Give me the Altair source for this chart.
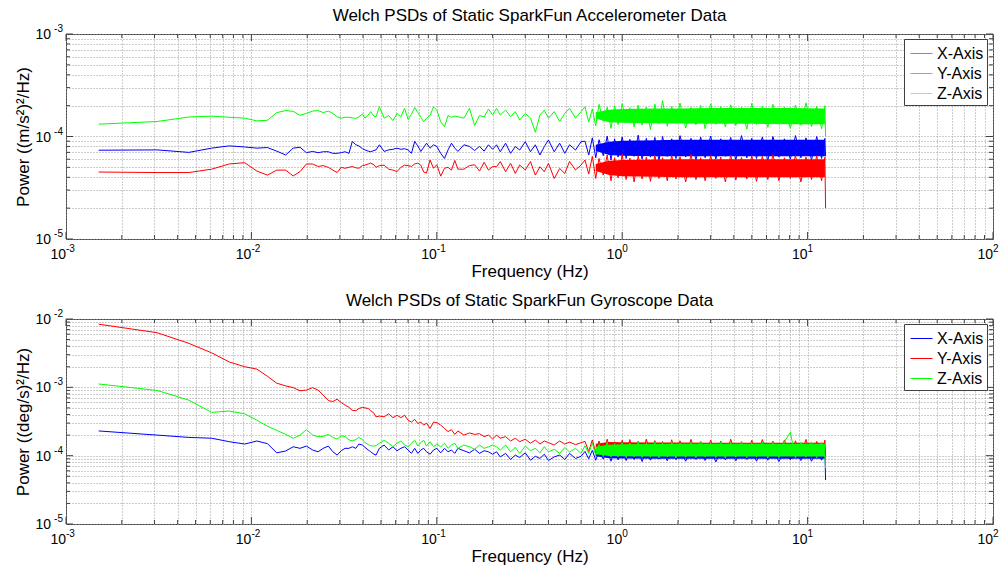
import altair as alt
import pandas as pd

FONT = "Liberation Sans"
BOX = "#404040"
GRID = "#9a9a9a"

SERIES = ["X-Axis", "Y-Axis", "Z-Axis"]
COLORS = ["#0000ff", "#ff0000", "#00ff00"]

# ---- frequency grids (Hz) ----
F_LOW = [0.0015, 0.0031, 0.0046, 0.0061, 0.0076, 0.0092, 0.0107, 0.0122, 0.0137, 0.0153,
         0.0168, 0.0183, 0.0198, 0.0214, 0.0229, 0.0244, 0.026, 0.0275, 0.029, 0.0305,
         0.032, 0.0336, 0.035, 0.0366, 0.038, 0.0397, 0.041, 0.0427, 0.044, 0.0458,
         0.047, 0.049, 0.052, 0.055, 0.058, 0.061, 0.064, 0.067, 0.070, 0.073,
         0.076, 0.079, 0.082, 0.085, 0.088, 0.092, 0.096, 0.10, 0.105, 0.11,
         0.115, 0.12, 0.125, 0.13, 0.14, 0.15, 0.16, 0.17, 0.18, 0.19, 0.20]
F_MID = [0.21, 0.22, 0.235, 0.25, 0.265, 0.28, 0.30, 0.32, 0.34, 0.36, 0.38, 0.40,
         0.43, 0.46, 0.49, 0.52, 0.56, 0.60]
F_HIGH = [0.63, 0.66, 0.69, 0.72, 0.75, 0.79, 0.83, 0.87, 0.91, 0.95,
          1.0, 1.05, 1.1, 1.16, 1.22, 1.28, 1.35, 1.42, 1.5, 1.58,
          1.65, 1.75, 1.85, 1.95, 2.05, 2.2, 2.35, 2.5, 2.65, 2.8,
          3.0, 3.2, 3.4, 3.6, 3.85, 4.1, 4.4, 4.7, 5.0, 5.3,
          5.7, 6.1, 6.5, 7.0, 7.5, 8.07, 8.6, 9.2, 9.8, 10.5,
          11.2, 11.9, 12.4, 12.5]
F_LINE = F_LOW + F_MID + F_HIGH
# dense (solid-looking) core of the high-frequency noise
BAND_F = [0.72, 0.85, 1.0, 1.5, 2.0, 3.0, 5.0, 8.0, 12.4]

# ---- accelerometer PSD, (m/s^2)^2/Hz ----
ACC_X = [7.35e-5, 7.4e-5, 7.0e-5, 7.7e-5, 8.1e-5, 7.9e-5, 7.7e-5, 7.8e-5, 7.2e-5, 6.6e-5,
         7.7e-5, 7.85e-5, 6.95e-5, 7.15e-5, 6.95e-5, 7.1e-5, 7.1e-5, 6.85e-5, 6.85e-5, 6.95e-5,
         7.1e-5, 6.85e-5, 8.95e-5, 8.3e-5, 8.1e-5, 7.6e-5, 7.4e-5, 7.2e-5, 7.1e-5, 7.3e-5,
         7.4e-5, 8.3e-5, 7.15e-5, 7.4e-5, 7.5e-5, 7.7e-5, 7.5e-5, 7.6e-5, 7.4e-5, 6.85e-5,
         8.95e-5, 8.1e-5, 7.15e-5, 7.85e-5, 8.6e-5, 7.7e-5, 8.3e-5, 8.0e-5, 6.85e-5, 6.1e-5,
         7.4e-5, 8.6e-5, 7.7e-5, 7.15e-5, 8.3e-5, 8.0e-5, 7.3e-5, 8.0e-5, 7.2e-5, 8.3e-5, 7.5e-5,
         8.3e-5, 7.1e-5, 8.6e-5, 6.85e-5, 7.97e-5, 7.38e-5, 8.9e-5, 7.1e-5, 8.3e-5,
         6.6e-5, 7.97e-5, 9.25e-5, 7.1e-5, 8.6e-5, 6.85e-5, 8.3e-5, 7.38e-5, 8.9e-5,
         9.0e-5, 6.6e-5, 9.7e-5, 6.2e-5, 9.3e-5, 6.5e-5, 10.1e-5, 5.9e-5, 9.5e-5, 6.3e-5,
         9.9e-5, 6.1e-5, 9.4e-5, 6.4e-5, 10.3e-5, 6.0e-5, 9.6e-5, 6.3e-5, 9.8e-5, 5.8e-5,
         10.0e-5, 6.4e-5, 9.5e-5, 6.1e-5, 10.2e-5, 6.3e-5, 9.6e-5, 5.9e-5, 9.9e-5, 6.2e-5,
         10.1e-5, 6.0e-5, 9.5e-5, 6.4e-5, 9.8e-5, 5.9e-5, 10.2e-5, 6.2e-5, 9.6e-5, 6.1e-5,
         9.9e-5, 5.8e-5, 10.0e-5, 6.3e-5, 9.5e-5, 6.0e-5, 10.2e-5, 6.2e-5, 9.7e-5, 5.9e-5,
         10.0e-5, 6.1e-5, 9.6e-5, 6.4e-5]
ACC_Y = [4.5e-5, 4.45e-5, 4.45e-5, 4.8e-5, 5.4e-5, 5.55e-5, 4.6e-5, 4.2e-5, 4.7e-5, 4.7e-5,
         4.12e-5, 4.55e-5, 5.39e-5, 5.39e-5, 5.1e-5, 5.2e-5, 5.0e-5, 4.7e-5, 4.45e-5, 5.0e-5,
         4.9e-5, 5.0e-5, 5.1e-5, 4.95e-5, 4.9e-5, 5.2e-5, 5.25e-5, 5.39e-5, 5.5e-5, 5.3e-5,
         5.0e-5, 5.2e-5, 5.25e-5, 4.8e-5, 4.7e-5, 4.55e-5, 5.0e-5, 5.25e-5, 5.2e-5, 5.1e-5,
         5.4e-5, 5.5e-5, 5.25e-5, 4.5e-5, 4.4e-5, 5.9e-5, 4.9e-5, 5.3e-5, 4.1e-5, 4.9e-5,
         5.0e-5, 4.7e-5, 5.85e-5, 4.8e-5, 4.8e-5, 5.2e-5, 5.3e-5, 4.6e-5, 5.6e-5, 4.7e-5, 5.1e-5,
         5.07e-5, 5.7e-5, 4.53e-5, 5.48e-5, 4.36e-5, 5.27e-5, 4.71e-5, 5.7e-5, 4.2e-5,
         5.07e-5, 4.53e-5, 5.48e-5, 3.89e-5, 4.88e-5, 4.36e-5, 5.7e-5, 4.71e-5, 5.27e-5,
         5.9e-5, 4.3e-5, 6.4e-5, 3.9e-5, 6.1e-5, 4.2e-5, 6.6e-5, 3.7e-5, 6.2e-5, 3.95e-5,
         6.7e-5, 3.8e-5, 6.15e-5, 3.6e-5, 6.5e-5, 3.85e-5, 6.3e-5, 3.65e-5, 6.6e-5, 3.9e-5,
         6.2e-5, 3.7e-5, 6.55e-5, 3.85e-5, 6.35e-5, 3.6e-5, 6.7e-5, 3.8e-5, 6.2e-5, 3.7e-5,
         6.5e-5, 3.9e-5, 6.3e-5, 3.6e-5, 6.6e-5, 3.75e-5, 6.25e-5, 3.85e-5, 6.5e-5, 3.65e-5,
         6.4e-5, 3.8e-5, 6.65e-5, 3.7e-5, 6.2e-5, 3.9e-5, 6.55e-5, 3.6e-5, 6.3e-5, 3.8e-5,
         6.5e-5, 3.7e-5, 6.3e-5, 2.0e-5]
ACC_Z = [1.32e-4, 1.40e-4, 1.55e-4, 1.58e-4, 1.54e-4, 1.51e-4, 1.42e-4, 1.44e-4, 1.71e-4, 1.79e-4,
         1.76e-4, 1.61e-4, 1.68e-4, 1.77e-4, 1.79e-4, 1.71e-4, 1.77e-4, 1.68e-4, 1.56e-4, 1.51e-4,
         1.54e-4, 1.54e-4, 1.52e-4, 1.50e-4, 1.56e-4, 1.65e-4, 1.51e-4, 1.62e-4, 1.75e-4, 1.58e-4,
         1.56e-4, 1.95e-4, 1.51e-4, 1.60e-4, 1.43e-4, 1.68e-4, 1.56e-4, 1.88e-4, 1.47e-4, 1.65e-4,
         1.92e-4, 1.71e-4, 1.54e-4, 1.39e-4, 1.51e-4, 1.60e-4, 1.95e-4, 1.81e-4, 1.39e-4, 1.25e-4,
         1.60e-4, 1.54e-4, 1.58e-4, 1.56e-4, 1.51e-4, 1.88e-4, 1.28e-4, 1.60e-4, 1.55e-4, 1.85e-4, 1.62e-4,
         1.88e-4, 1.62e-4, 1.81e-4, 1.56e-4, 1.75e-4, 1.45e-4, 1.68e-4, 1.51e-4, 1.10e-4,
         1.62e-4, 1.81e-4, 1.51e-4, 1.75e-4, 1.40e-4, 1.68e-4, 1.88e-4, 1.51e-4, 1.75e-4,
         1.95e-4, 1.38e-4, 1.86e-4, 1.27e-4, 2.06e-4, 1.41e-4, 1.93e-4, 1.20e-4, 1.99e-4, 1.31e-4,
         2.10e-4, 1.36e-4, 1.91e-4, 1.24e-4, 2.02e-4, 1.29e-4, 1.94e-4, 1.17e-4, 2.07e-4, 1.33e-4,
         2.24e-4, 1.26e-4, 1.96e-4, 1.35e-4, 2.12e-4, 1.21e-4, 1.92e-4, 1.30e-4, 2.01e-4, 1.19e-4,
         2.09e-4, 1.32e-4, 1.95e-4, 1.24e-4, 2.04e-4, 1.28e-4, 1.93e-4, 1.18e-4, 2.11e-4, 1.31e-4,
         1.97e-4, 1.23e-4, 2.06e-4, 1.34e-4, 1.94e-4, 1.20e-4, 2.03e-4, 1.29e-4, 2.13e-4, 1.25e-4,
         1.96e-4, 1.19e-4, 2.00e-4, 1.00e-4]
ACC_X_HI = [8.3e-5, 8.9e-5, 9.1e-5, 9.2e-5, 9.3e-5, 9.3e-5, 9.3e-5, 9.3e-5, 9.3e-5]
ACC_X_LO = [7.2e-5, 6.6e-5, 6.5e-5, 6.4e-5, 6.4e-5, 6.4e-5, 6.4e-5, 6.4e-5, 6.4e-5]
ACC_Y_HI = [5.4e-5, 5.8e-5, 5.9e-5, 5.95e-5, 6.0e-5, 6.0e-5, 6.0e-5, 6.0e-5, 6.0e-5]
ACC_Y_LO = [4.6e-5, 4.2e-5, 4.1e-5, 4.05e-5, 4.0e-5, 4.0e-5, 4.0e-5, 4.0e-5, 4.0e-5]
ACC_Z_HI = [1.72e-4, 1.82e-4, 1.86e-4, 1.88e-4, 1.88e-4, 1.90e-4, 1.90e-4, 1.90e-4, 1.88e-4]
ACC_Z_LO = [1.50e-4, 1.38e-4, 1.36e-4, 1.35e-4, 1.34e-4, 1.33e-4, 1.33e-4, 1.32e-4, 1.32e-4]

# ---- gyroscope PSD, (deg/s)^2/Hz ----
GYR_X = [2.3e-4, 2.0e-4, 1.85e-4, 1.8e-4, 1.6e-4, 1.48e-4, 1.64e-4, 1.5e-4, 1.1e-4, 1.17e-4,
         1.35e-4, 1.28e-4, 1.38e-4, 1.21e-4, 1.14e-4, 1.28e-4, 1.38e-4, 1.14e-4, 1.02e-4, 1.18e-4,
         1.28e-4, 1.28e-4, 1.35e-4, 1.28e-4, 1.48e-4, 1.43e-4, 1.32e-4, 1.21e-4, 1.14e-4, 1.05e-4,
         1.02e-4, 1.28e-4, 1.43e-4, 1.21e-4, 1.35e-4, 1.18e-4, 1.28e-4, 1.35e-4, 1.21e-4, 1.08e-4,
         1.28e-4, 1.08e-4, 1.21e-4, 1.28e-4, 1.14e-4, 1.05e-4, 1.21e-4, 1.28e-4, 1.10e-4, 1.28e-4,
         1.14e-4, 1.21e-4, 1.08e-4, 1.28e-4, 1.18e-4, 1.10e-4, 1.24e-4, 1.08e-4, 1.18e-4, 1.14e-4, 1.05e-4,
         1.14e-4, 9.6e-5, 1.08e-4, 8.8e-5, 1.02e-4, 9.4e-5, 1.10e-4, 8.6e-5, 9.8e-5,
         9.1e-5, 1.05e-4, 8.5e-5, 9.6e-5, 1.02e-4, 8.8e-5, 1.08e-4, 9.1e-5, 9.8e-5,
         11.5e-5, 9.0e-5, 12.0e-5, 8.6e-5, 11.8e-5, 8.9e-5, 12.2e-5, 8.3e-5, 12.0e-5, 8.7e-5,
         12.1e-5, 8.5e-5, 11.9e-5, 8.8e-5, 12.2e-5, 8.2e-5, 12.0e-5, 8.6e-5, 12.1e-5, 8.9e-5,
         11.9e-5, 8.4e-5, 12.2e-5, 8.7e-5, 12.0e-5, 8.3e-5, 12.1e-5, 8.8e-5, 11.9e-5, 8.5e-5,
         12.2e-5, 8.1e-5, 12.0e-5, 8.7e-5, 12.1e-5, 8.4e-5, 11.9e-5, 8.8e-5, 12.2e-5, 8.3e-5,
         12.0e-5, 8.6e-5, 12.1e-5, 8.2e-5, 11.9e-5, 8.7e-5, 12.2e-5, 8.5e-5, 12.0e-5, 8.3e-5,
         12.1e-5, 8.6e-5, 11.8e-5, 4.4e-5]
GYR_Y = [8.4e-3, 6.3e-3, 4.4e-3, 3.2e-3, 2.35e-3, 2.0e-3, 1.85e-3, 1.45e-3, 1.15e-3, 1.05e-3,
         9.9e-4, 8.9e-4, 9.1e-4, 9.9e-4, 9.1e-4, 7.7e-4, 6.4e-4, 6.2e-4, 6.7e-4, 6.0e-4,
         5.5e-4, 5.1e-4, 4.6e-4, 4.55e-4, 4.9e-4, 5.1e-4, 5.0e-4, 4.9e-4, 4.55e-4, 4.2e-4,
         3.7e-4, 3.8e-4, 3.7e-4, 4.1e-4, 3.6e-4, 3.9e-4, 3.6e-4, 3.9e-4, 3.3e-4, 3.1e-4,
         3.4e-4, 2.95e-4, 3.1e-4, 2.8e-4, 3.0e-4, 2.5e-4, 3.1e-4, 3.05e-4, 2.8e-4, 2.5e-4,
         2.25e-4, 2.4e-4, 2.05e-4, 2.3e-4, 2.0e-4, 2.15e-4, 2.05e-4, 2.1e-4, 1.9e-4, 2.0e-4, 1.75e-4,
         2.0e-4, 1.8e-4, 1.9e-4, 1.64e-4, 1.8e-4, 1.6e-4, 1.74e-4, 1.52e-4, 1.69e-4,
         1.48e-4, 1.64e-4, 1.55e-4, 1.43e-4, 1.64e-4, 1.48e-4, 1.58e-4, 1.45e-4, 1.55e-4,
         16.2e-5, 11.5e-5, 17.0e-5, 11.0e-5, 16.4e-5, 10.8e-5, 17.4e-5, 10.5e-5, 16.0e-5, 10.2e-5,
         16.8e-5, 10.0e-5, 17.2e-5, 9.8e-5, 16.3e-5, 10.0e-5, 17.5e-5, 9.6e-5, 16.6e-5, 9.9e-5,
         16.1e-5, 9.5e-5, 17.1e-5, 9.8e-5, 16.5e-5, 9.3e-5, 17.3e-5, 9.7e-5, 16.2e-5, 9.5e-5,
         16.9e-5, 9.8e-5, 16.4e-5, 9.2e-5, 17.4e-5, 9.6e-5, 16.0e-5, 9.8e-5, 16.8e-5, 9.4e-5,
         17.2e-5, 9.7e-5, 16.3e-5, 9.3e-5, 17.0e-5, 9.6e-5, 16.5e-5, 9.8e-5, 17.3e-5, 9.4e-5,
         16.2e-5, 9.6e-5, 16.9e-5, 10.0e-5]
GYR_Z = [1.12e-3, 9.0e-4, 6.5e-4, 4.3e-4, 4.5e-4, 4.1e-4, 3.3e-4, 2.7e-4, 2.35e-4, 2.05e-4,
         1.8e-4, 2.0e-4, 2.4e-4, 2.0e-4, 1.9e-4, 1.92e-4, 2.05e-4, 1.85e-4, 1.75e-4, 1.95e-4,
         1.9e-4, 1.7e-4, 1.65e-4, 1.72e-4, 1.85e-4, 1.72e-4, 1.55e-4, 1.45e-4, 1.4e-4, 1.38e-4,
         1.4e-4, 1.52e-4, 1.68e-4, 1.52e-4, 1.36e-4, 1.52e-4, 1.64e-4, 1.43e-4, 1.36e-4, 1.52e-4,
         1.68e-4, 1.38e-4, 1.56e-4, 1.68e-4, 1.38e-4, 1.6e-4, 1.35e-4, 1.48e-4, 1.35e-4, 1.52e-4,
         1.28e-4, 1.43e-4, 1.52e-4, 1.28e-4, 1.43e-4, 1.35e-4, 1.24e-4, 1.43e-4, 1.28e-4, 1.35e-4, 1.43e-4,
         1.35e-4, 1.21e-4, 1.43e-4, 1.14e-4, 1.32e-4, 1.08e-4, 1.38e-4, 1.18e-4, 1.28e-4,
         1.10e-4, 1.35e-4, 1.14e-4, 1.24e-4, 1.08e-4, 1.32e-4, 1.13e-4, 1.28e-4, 1.08e-4,
         14.0e-5, 10.8e-5, 15.4e-5, 10.1e-5, 14.6e-5, 9.7e-5, 15.8e-5, 9.5e-5, 15.1e-5, 9.6e-5,
         15.6e-5, 9.3e-5, 15.3e-5, 9.6e-5, 16.0e-5, 9.4e-5, 15.2e-5, 9.5e-5, 15.9e-5, 9.3e-5,
         15.5e-5, 9.6e-5, 16.1e-5, 9.2e-5, 15.4e-5, 9.5e-5, 15.7e-5, 9.3e-5, 16.2e-5, 9.6e-5,
         15.3e-5, 9.4e-5, 15.8e-5, 9.2e-5, 15.5e-5, 9.5e-5, 16.0e-5, 9.3e-5, 15.4e-5, 9.6e-5,
         15.9e-5, 9.2e-5, 15.6e-5, 9.4e-5, 16.1e-5, 22.0e-5, 9.3e-5, 15.7e-5, 9.5e-5, 15.9e-5,
         9.3e-5, 15.6e-5, 9.4e-5, 6.6e-5]
GYR_X_HI = [1.15e-4, 1.22e-4, 1.25e-4, 1.25e-4, 1.25e-4, 1.25e-4, 1.25e-4, 1.25e-4, 1.25e-4]
GYR_X_LO = [9.8e-5, 9.2e-5, 9.1e-5, 9.0e-5, 9.0e-5, 9.0e-5, 9.0e-5, 9.0e-5, 9.0e-5]
GYR_Y_HI = [1.50e-4, 1.58e-4, 1.57e-4, 1.56e-4, 1.56e-4, 1.55e-4, 1.55e-4, 1.55e-4, 1.55e-4]
GYR_Y_LO = [1.15e-4, 1.08e-4, 1.05e-4, 1.02e-4, 1.0e-4, 1.0e-4, 1.0e-4, 1.0e-4, 1.0e-4]
GYR_Z_HI = [1.35e-4, 1.45e-4, 1.47e-4, 1.48e-4, 1.50e-4, 1.50e-4, 1.50e-4, 1.50e-4, 1.50e-4]
GYR_Z_LO = [1.05e-4, 9.9e-5, 9.8e-5, 9.7e-5, 9.7e-5, 9.7e-5, 9.7e-5, 9.7e-5, 9.7e-5]

# ---- axis ticks / labels ----
X_MAJOR = [0.001, 0.01, 0.1, 1, 10, 100]
X_EXP = ["-3", "-2", "-1", "0", "1", "2"]
MULT = [2, 3, 4, 5, 6, 7, 8, 9]

W, H = 927, 205

# legend symbol colour, looked up from the series name
SYM_STROKE = ("datum.value === '%s' ? '%s' : datum.value === '%s' ? '%s' : '%s'"
              % (SERIES[0], COLORS[0], SERIES[1], COLORS[1], COLORS[2]))


def panel(title, ytitle, y_major, y_exp, lines, bands, sym_opacity):
    x_minor = [d * m for d in X_MAJOR[:-1] for m in MULT]
    y_minor = [d * m for d in y_major[:-1] for m in MULT]
    xscale = alt.Scale(type="log", domain=[X_MAJOR[0], X_MAJOR[-1]], nice=False)
    yscale = alt.Scale(type="log", domain=[y_major[0], y_major[-1]], nice=False)
    cscale = alt.Scale(domain=SERIES, range=COLORS)
    xaxis = alt.Axis(values=X_MAJOR + x_minor, labels=False, ticks=False, domain=False,
                     grid=True, gridColor=GRID, gridDash=[1, 2], gridWidth=1,
                     title="Frequency (Hz)", titleFont=FONT, titleFontSize=17,
                     titleFontWeight="normal", titleColor="black", titlePadding=24)
    yaxis = alt.Axis(values=y_major + y_minor, labels=False, ticks=False, domain=False,
                     grid=True, gridColor=GRID, gridDash=[1, 2], gridWidth=1,
                     title=ytitle, titleFont=FONT, titleFontSize=17,
                     titleFontWeight="normal", titleColor="black", titlePadding=34)
    legend = alt.Legend(orient="none", legendX=838, legendY=5, title=None, direction="vertical",
                        symbolType="stroke", symbolSize=484, symbolStrokeWidth=1,
                        symbolOffset=3, symbolOpacity=sym_opacity,
                        symbolStrokeColor={"expr": SYM_STROKE},
                        labelFont=FONT, labelFontSize=16, labelColor="black", labelOffset=4,
                        strokeColor=BOX, fillColor="white", padding=3, rowPadding=0)
    X = lambda f: alt.X(f, scale=xscale, axis=xaxis)
    Y = lambda f: alt.Y(f, scale=yscale, axis=yaxis)
    C = alt.Color("s:N", scale=cscale, legend=legend)

    layers = []
    for name in SERIES:
        dl = pd.DataFrame({"f": F_LINE, "p": lines[name], "s": name})
        layers.append(alt.Chart(dl).mark_line(strokeWidth=1, clip=True).encode(
            x=X("f:Q"), y=Y("p:Q"), color=C))
        hi, lo = bands[name]
        db = pd.DataFrame({"f": BAND_F, "hi": hi, "lo": lo, "s": name})
        layers.append(alt.Chart(db).mark_area(opacity=1, clip=True).encode(
            x=X("f:Q"), y=Y("hi:Q"), y2="lo:Q", color=C))

    # inward tick marks (major and minor) on all four sides
    dxM = pd.DataFrame({"v": X_MAJOR})
    dxm = pd.DataFrame({"v": x_minor})
    dyM = pd.DataFrame({"v": y_major})
    dym = pd.DataFrame({"v": y_minor})
    for d, ln in ((dxM, 7), (dxm, 4)):
        layers.append(alt.Chart(d).mark_rule(color=BOX).encode(
            x=X("v:Q"), y=alt.value(H), y2=alt.value(H - ln)))
        layers.append(alt.Chart(d).mark_rule(color=BOX).encode(
            x=X("v:Q"), y=alt.value(0), y2=alt.value(ln)))
    for d, ln in ((dyM, 7), (dym, 4)):
        layers.append(alt.Chart(d).mark_rule(color=BOX).encode(
            y=Y("v:Q"), x=alt.value(0), x2=alt.value(ln)))
        layers.append(alt.Chart(d).mark_rule(color=BOX).encode(
            y=Y("v:Q"), x=alt.value(W), x2=alt.value(W - ln)))

    # tick labels: "10" with a superscript exponent
    dxl = pd.DataFrame({"v": X_MAJOR, "e": X_EXP, "b": ["10"] * len(X_MAJOR)})
    layers.append(alt.Chart(dxl).mark_text(align="right", baseline="middle", font=FONT,
                                           fontSize=14, color="black").encode(
        x=X("v:Q"), y=alt.value(H + 16), text="b:N"))
    layers.append(alt.Chart(dxl).mark_text(align="left", baseline="middle", font=FONT,
                                           fontSize=10, color="black").encode(
        x=X("v:Q"), y=alt.value(H + 10), text="e:N"))
    dyl = pd.DataFrame({"v": y_major, "e": y_exp, "b": ["10"] * len(y_major)})
    layers.append(alt.Chart(dyl).mark_text(align="right", baseline="middle", font=FONT,
                                           fontSize=14, color="black", dy=1).encode(
        y=Y("v:Q"), x=alt.value(-15), text="b:N"))
    layers.append(alt.Chart(dyl).mark_text(align="right", baseline="middle", font=FONT,
                                           fontSize=10, color="black", dy=-5).encode(
        y=Y("v:Q"), x=alt.value(-3), text="e:N"))

    return alt.layer(*layers).properties(
        width=W, height=H,
        title=alt.TitleParams(title, font=FONT, fontSize=17, fontWeight="normal",
                              color="black", offset=-1, frame="group", anchor="middle"))


top = panel("Welch PSDs of Static SparkFun Accelerometer Data",
            "Power ((m/s²)²/Hz)", [1e-5, 1e-4, 1e-3], ["-5", "-4", "-3"],
            {"X-Axis": ACC_X, "Y-Axis": ACC_Y, "Z-Axis": ACC_Z},
            {"X-Axis": (ACC_X_HI, ACC_X_LO), "Y-Axis": (ACC_Y_HI, ACC_Y_LO),
             "Z-Axis": (ACC_Z_HI, ACC_Z_LO)}, 0.5)
bottom = panel("Welch PSDs of Static SparkFun Gyroscope Data",
               "Power ((deg/s)²/Hz)", [1e-5, 1e-4, 1e-3, 1e-2], ["-5", "-4", "-3", "-2"],
               {"X-Axis": GYR_X, "Y-Axis": GYR_Y, "Z-Axis": GYR_Z},
               {"X-Axis": (GYR_X_HI, GYR_X_LO), "Y-Axis": (GYR_Y_HI, GYR_Y_LO),
                "Z-Axis": (GYR_Z_HI, GYR_Z_LO)}, 1.0)

chart = alt.vconcat(top, bottom, spacing=11).resolve_scale(
    x="independent", y="independent", color="independent"
).resolve_legend(color="independent").properties(
    padding={"left": 13, "top": 6, "right": 5, "bottom": 5}, background="white"
).configure_view(stroke=BOX, strokeWidth=1)

chart.save("out.html", embed_options={"renderer": "svg", "actions": False})
